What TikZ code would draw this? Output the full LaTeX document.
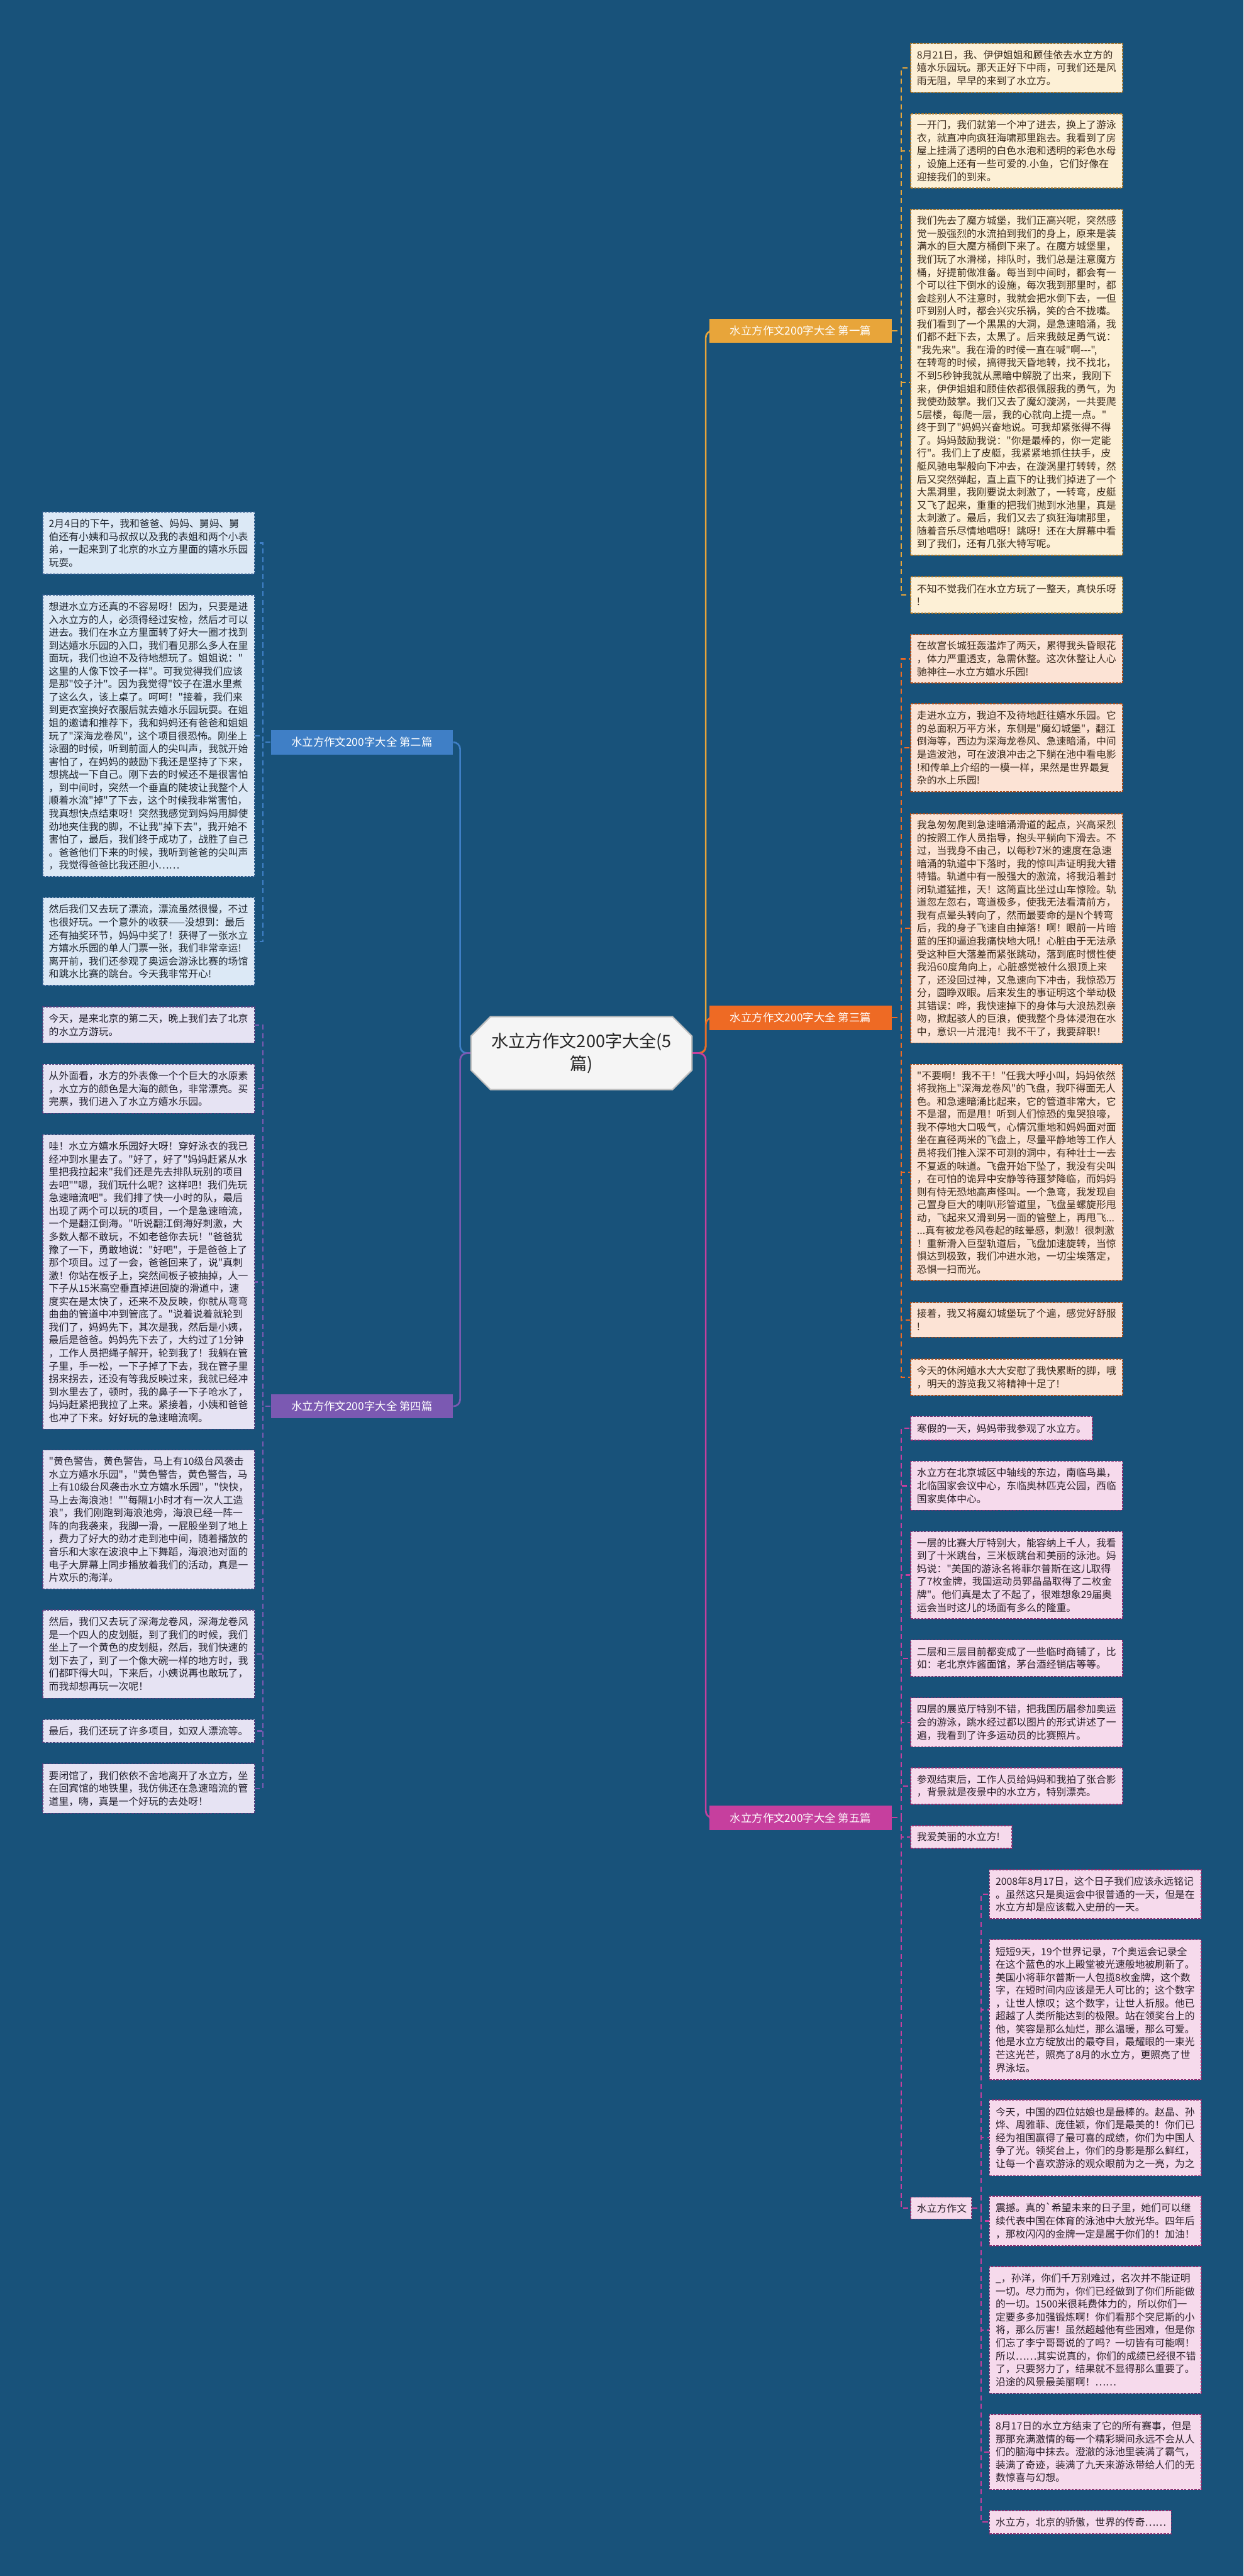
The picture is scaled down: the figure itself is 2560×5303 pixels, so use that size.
\documentclass[tikz,border=0pt]{standalone}
\usepackage{fontspec}
\newfontfamily\cjk{Noto Sans CJK SC}
\usetikzlibrary{calc,shapes.misc}
\definecolor{bg}{HTML}{18527A}
\definecolor{aF}{HTML}{FDF0D6}\definecolor{aL}{HTML}{E8A53A}\definecolor{aT}{HTML}{3A2A1C}
\definecolor{bF}{HTML}{FCE3D5}\definecolor{bL}{HTML}{EE6A24}\definecolor{bT}{HTML}{3A2A1C}
\definecolor{cF}{HTML}{F6DAEC}\definecolor{cL}{HTML}{C63F9E}\definecolor{cT}{HTML}{2A1F2A}
\definecolor{eF}{HTML}{DCE9F6}\definecolor{eL}{HTML}{3F7FC6}\definecolor{eT}{HTML}{1F2630}
\definecolor{fF}{HTML}{E6E3F3}\definecolor{fL}{HTML}{7B59B2}\definecolor{fT}{HTML}{22202E}
\newcommand\mybox[7]{%
  \pgfmathsetmacro\myh{(#5-#4)*0.01}%
  \pgfmathsetmacro\myw{(#6-25)*0.01}%
  \node[#2, anchor=north west, minimum height=\myh cm, text width=\myw cm] (#1) at (#3,#4) {#7};}
\begin{document}
\begin{tikzpicture}[x=0.01cm,y=-0.01cm,
  txt/.style={draw, dashed, dash pattern=on 1.2pt off 0.8pt, line width=0.6pt, inner xsep=0.125cm, inner ysep=0pt, align=left,
    font=\cjk\fontsize{5.83}{7.57}\selectfont},
  abox/.style={txt, fill=aF, draw=aL!70!black, text=aT},
  bbox/.style={txt, fill=bF, draw=bL!70!black, text=bT},
  cbox/.style={txt, fill=cF, draw=cL!70!black, text=cT},
  ebox/.style={txt, fill=eF, draw=eL!70!black, text=eT},
  fbox/.style={txt, fill=fF, draw=fL!70!black, text=fT},
  lab/.style={rectangle, minimum width=3.75cm, minimum height=0.5cm, inner sep=0pt, text=white,
    font=\cjk\fontsize{6.4}{7.5}\selectfont},
  conn/.style={line width=0.8pt, dashed, dash pattern=on 3pt off 2pt},
  main/.style={line width=1pt, rounded corners=4pt}]
\fill[bg] (0,0) rectangle (2560,5303);
\useasboundingbox (0,0) rectangle (2560,5303);

% center and labels
\node[chamfered rectangle, chamfered rectangle xsep=0.3cm, fill=gray!8, draw=gray!50, line width=0.8pt,
  minimum width=4.46cm, minimum height=1.5cm, align=center, text=black!85,
  font=\cjk\fontsize{10}{13}\selectfont] (ctr) at (1197,2168) {水立方作文200字大全(5\\篇)};
\node[lab, fill=aL] (l1) at (1648,681) {水立方作文200字大全 第一篇};
\node[lab, fill=eL] (l2) at (745,1528) {水立方作文200字大全 第二篇};
\node[lab, fill=bL] (l3) at (1648,2095) {水立方作文200字大全 第三篇};
\node[lab, fill=fL] (l4) at (745,2895) {水立方作文200字大全 第四篇};
\node[lab, fill=cL] (l5) at (1648,3742) {水立方作文200字大全 第五篇};

% branch 1
\mybox{a1}{abox}{1874}{88}{189}{436}{8月21日，我、伊伊姐姐和顾佳依去水立方的\\嬉水乐园玩。那天正好下中雨，可我们还是风\\雨无阻，早早的来到了水立方。}
\mybox{a2}{abox}{1874}{233}{386}{436}{一开门，我们就第一个冲了进去，换上了游泳\\衣，就直冲向疯狂海啸那里跑去。我看到了房\\屋上挂满了透明的白色水泡和透明的彩色水母\\，设施上还有一些可爱的.小鱼，它们好像在\\迎接我们的到来。}
\mybox{a3}{abox}{1874}{430}{1142}{436}{我们先去了魔方城堡，我们正高兴呢，突然感\\觉一股强烈的水流拍到我们的身上，原来是装\\满水的巨大魔方桶倒下来了。在魔方城堡里，\\我们玩了水滑梯，排队时，我们总是注意魔方\\桶，好提前做准备。每当到中间时，都会有一\\个可以往下倒水的设施，每次我到那里时，都\\会趁别人不注意时，我就会把水倒下去，一但\\吓到别人时，都会兴灾乐祸，笑的合不拢嘴。\\我们看到了一个黑黑的大洞，是急速暗涌，我\\们都不赶下去，太黑了。后来我鼓足勇气说：\\"我先来"。我在滑的时候一直在喊"啊---",\\在转弯的时候，搞得我天昏地转，找不找北，\\不到5秒钟我就从黑暗中解脱了出来，我刚下\\来，伊伊姐姐和顾佳依都很佩服我的勇气，为\\我使劲鼓掌。我们又去了魔幻漩涡，一共要爬\\5层楼，每爬一层，我的心就向上提一点。"\\终于到了"妈妈兴奋地说。可我却紧张得不得\\了。妈妈鼓励我说："你是最棒的，你一定能\\行"。我们上了皮艇，我紧紧地抓住扶手，皮\\艇风驰电掣般向下冲去，在漩涡里打转转，然\\后又突然弹起，直上直下的让我们掉进了一个\\大黑洞里，我刚要说太刺激了，一转弯，皮艇\\又飞了起来，重重的把我们抛到水池里，真是\\太刺激了。最后，我们又去了疯狂海啸那里，\\随着音乐尽情地唱呀！跳呀！还在大屏幕中看\\到了我们，还有几张大特写呢。}
\mybox{a4}{abox}{1874}{1186}{1261}{436}{不知不觉我们在水立方玩了一整天，真快乐呀\\!}

% branch 3
\mybox{b1}{bbox}{1874}{1305}{1405}{436}{在故宫长城狂轰滥炸了两天，累得我头昏眼花\\，体力严重透支，急需休整。这次休整让人心\\驰神往—水立方嬉水乐园!}
\mybox{b2}{bbox}{1874}{1448}{1629}{436}{走进水立方，我迫不及待地赶往嬉水乐园。它\\的总面积万平方米，东侧是"魔幻城堡"，翻江\\倒海等，西边为深海龙卷风、急速暗涌，中间\\是造波池，可在波浪冲击之下躺在池中看电影\\!和传单上介绍的一模一样，果然是世界最复\\杂的水上乐园!}
\mybox{b3}{bbox}{1874}{1674}{2146}{436}{我急匆匆爬到急速暗涌滑道的起点，兴高采烈\\的按照工作人员指导，抱头平躺向下滑去。不\\过，当我身不由己，以每秒7米的速度在急速\\暗涌的轨道中下落时，我的惊叫声证明我大错\\特错。轨道中有一股强大的激流，将我沿着封\\闭轨道猛推，天！这简直比坐过山车惊险。轨\\道忽左忽右，弯道极多，使我无法看清前方，\\我有点晕头转向了，然而最要命的是N个转弯\\后，我的身子飞速自由掉落！啊！眼前一片暗\\蓝的压抑逼迫我痛快地大吼！心脏由于无法承\\受这种巨大落差而紧张跳动，落到底时惯性使\\我沿60度角向上，心脏感觉被什么狠顶上来\\了，还没回过神，又急速向下冲击，我惊恐万\\分，圆睁双眼。后来发生的事证明这个举动极\\其错误：哗，我快速掉下的身体与大浪热烈亲\\吻，掀起骇人的巨浪，使我整个身体浸泡在水\\中，意识一片混沌！我不干了，我要辞职！}
\mybox{b4}{bbox}{1874}{2190}{2635}{436}{"不要啊！我不干！"任我大呼小叫，妈妈依然\\将我拖上"深海龙卷风"的飞盘，我吓得面无人\\色。和急速暗涌比起来，它的管道非常大，它\\不是溜，而是甩！听到人们惊恐的鬼哭狼嚎，\\我不停地大口吸气，心情沉重地和妈妈面对面\\坐在直径两米的飞盘上，尽量平静地等工作人\\员将我们推入深不可测的洞中，有种壮士一去\\不复返的味道。飞盘开始下坠了，我没有尖叫\\，在可怕的诡异中安静等待噩梦降临，而妈妈\\则有恃无恐地高声怪叫。一个急弯，我发现自\\己置身巨大的喇叭形管道里，飞盘呈螺旋形甩\\动，飞起来又滑到另一面的管壁上，再甩飞...\\...真有被龙卷风卷起的眩晕感，刺激！很刺激\\！重新滑入巨型轨道后，飞盘加速旋转，当惊\\惧达到极致，我们冲进水池，一切尘埃落定，\\恐惧一扫而光。}
\mybox{b5}{bbox}{1874}{2680}{2752}{436}{接着，我又将魔幻城堡玩了个遍，感觉好舒服\\!}
\mybox{b6}{bbox}{1874}{2797}{2872}{436}{今天的休闲嬉水大大安慰了我快累断的脚，哦\\，明天的游览我又将精神十足了!}

% branch 5
\mybox{c1}{cbox}{1874}{2915}{2964}{374}{寒假的一天，妈妈带我参观了水立方。}
\mybox{c2}{cbox}{1874}{3007}{3108}{436}{水立方在北京城区中轴线的东边，南临鸟巢，\\北临国家会议中心，东临奥林匹克公园，西临\\国家奥体中心。}
\mybox{c3}{cbox}{1874}{3152}{3331}{436}{一层的比赛大厅特别大，能容纳上千人，我看\\到了十米跳台，三米板跳台和美丽的泳池。妈\\妈说："美国的游泳名将菲尔普斯在这儿取得\\了7枚金牌，我国运动员郭晶晶取得了二枚金\\牌"。他们真是太了不起了，很难想象29届奥\\运会当时这儿的场面有多么的隆重。}
\mybox{c4}{cbox}{1874}{3375}{3450}{436}{二层和三层目前都变成了一些临时商铺了，比\\如：老北京炸酱面馆，茅台酒经销店等等。}
\mybox{c5}{cbox}{1874}{3494}{3595}{436}{四层的展览厅特别不错，把我国历届参加奥运\\会的游泳，跳水经过都以图片的形式讲述了一\\遍，我看到了许多运动员的比赛照片。}
\mybox{c6}{cbox}{1874}{3638}{3713}{436}{参观结束后，工作人员给妈妈和我拍了张合影\\，背景就是夜景中的水立方，特别漂亮。}
\mybox{c7}{cbox}{1874}{3757}{3804}{208}{我爱美丽的水立方!}
\mybox{c8}{cbox}{1874}{4522}{4567}{125}{水立方作文}

\mybox{d1}{cbox}{2036}{3848}{3949}{436}{2008年8月17日，这个日子我们应该永远铭记\\。虽然这只是奥运会中很普通的一天，但是在\\水立方却是应该载入史册的一天。}
\mybox{d2}{cbox}{2036}{3992}{4280}{436}{短短9天，19个世界记录，7个奥运会记录全\\在这个蓝色的水上殿堂被光速般地被刷新了。\\美国小将菲尔普斯一人包揽8枚金牌，这个数\\字，在短时间内应该是无人可比的；这个数字\\，让世人惊叹；这个数字，让世人折服。他已\\超越了人类所能达到的极限。站在领奖台上的\\他，笑容是那么灿烂，那么温暖，那么可爱。\\他是水立方绽放出的最夺目，最耀眼的一束光\\芒这光芒，照亮了8月的水立方，更照亮了世\\界泳坛。}
\mybox{d3}{cbox}{2036}{4322}{4478}{436}{今天，中国的四位姑娘也是最棒的。赵晶、孙\\烨、周雅菲、庞佳颖，你们是最美的！你们已\\经为祖国赢得了最可喜的成绩，你们为中国人\\争了光。领奖台上，你们的身影是那么鲜红，\\让每一个喜欢游泳的观众眼前为之一亮，为之}
\mybox{d4}{cbox}{2036}{4520}{4622}{436}{震撼。真的`希望未来的日子里，她们可以继\\续代表中国在体育的泳池中大放光华。四年后\\，那枚闪闪的金牌一定是属于你们的！加油！}
\mybox{d5}{cbox}{2036}{4665}{4926}{436}{\_，孙洋，你们千万别难过，名次并不能证明\\一切。尽力而为，你们已经做到了你们所能做\\的一切。1500米很耗费体力的，所以你们一\\定要多多加强锻炼啊！你们看那个突尼斯的小\\将，那么厉害！虽然超越他有些困难，但是你\\们忘了李宁哥哥说的了吗？一切皆有可能啊！\\所以……其实说真的，你们的成绩已经很不错\\了，只要努力了，结果就不显得那么重要了。\\沿途的风景最美丽啊！……}
\mybox{d6}{cbox}{2036}{4969}{5124}{436}{8月17日的水立方结束了它的所有赛事，但是\\那那充满激情的每一个精彩瞬间永远不会从人\\们的脑海中抹去。澄澈的泳池里装满了霸气，\\装满了奇迹，装满了九天来游泳带给人们的无\\数惊喜与幻想。}
\mybox{d7}{cbox}{2036}{5167}{5215}{374}{水立方，北京的骄傲，世界的传奇……}

% branch 2
\mybox{e1}{ebox}{87}{1053}{1181}{436}{2月4日的下午，我和爸爸、妈妈、舅妈、舅\\伯还有小姨和马叔叔以及我的表姐和两个小表\\弟，一起来到了北京的水立方里面的嬉水乐园\\玩耍。}
\mybox{e2}{ebox}{87}{1224}{1804}{436}{想进水立方还真的不容易呀！因为，只要是进\\入水立方的人，必须得经过安检，然后才可以\\进去。我们在水立方里面转了好大一圈才找到\\到达嬉水乐园的入口，我们看见那么多人在里\\面玩，我们也迫不及待地想玩了。姐姐说："\\这里的人像下饺子一样"。可我觉得我们应该\\是那"饺子汁"。因为我觉得"饺子在温水里煮\\了这么久，该上桌了。呵呵！"接着，我们来\\到更衣室换好衣服后就去嬉水乐园玩耍。在姐\\姐的邀请和推荐下，我和妈妈还有爸爸和姐姐\\玩了"深海龙卷风"，这个项目很恐怖。刚坐上\\泳圈的时候，听到前面人的尖叫声，我就开始\\害怕了，在妈妈的鼓励下我还是坚持了下来，\\想挑战一下自己。刚下去的时候还不是很害怕\\，到中间时，突然一个垂直的陡坡让我整个人\\顺着水流"掉"了下去，这个时候我非常害怕，\\我真想快点结束呀！突然我感觉到妈妈用脚使\\劲地夹住我的脚，不让我"掉下去"，我开始不\\害怕了，最后，我们终于成功了，战胜了自己\\。爸爸他们下来的时候，我听到爸爸的尖叫声\\，我觉得爸爸比我还胆小……}
\mybox{e3}{ebox}{87}{1847}{2028}{436}{然后我们又去玩了漂流，漂流虽然很慢，不过\\也很好玩。一个意外的收获——没想到：最后\\还有抽奖环节，妈妈中奖了！获得了一张水立\\方嬉水乐园的单人门票一张，我们非常幸运!\\离开前，我们还参观了奥运会游泳比赛的场馆\\和跳水比赛的跳台。今天我非常开心!}

% branch 4
\mybox{f1}{fbox}{87}{2072}{2146}{436}{今天，是来北京的第二天，晚上我们去了北京\\的水立方游玩。}
\mybox{f2}{fbox}{87}{2190}{2291}{436}{从外面看，水方的外表像一个个巨大的水原素\\，水立方的颜色是大海的颜色，非常漂亮。买\\完票，我们进入了水立方嬉水乐园。}
\mybox{f3}{fbox}{87}{2335}{2941}{436}{哇！水立方嬉水乐园好大呀！穿好泳衣的我已\\经冲到水里去了。"好了，好了"妈妈赶紧从水\\里把我拉起来"我们还是先去排队玩别的项目\\去吧""嗯，我们玩什么呢？这样吧！我们先玩\\急速暗流吧"。我们排了快一小时的队，最后\\出现了两个可以玩的项目，一个是急速暗流，\\一个是翻江倒海。"听说翻江倒海好刺激，大\\多数人都不敢玩，不如老爸你去玩！"爸爸犹\\豫了一下，勇敢地说："好吧"，于是爸爸上了\\那个项目。过了一会，爸爸回来了，说"真刺\\激！你站在板子上，突然间板子被抽掉，人一\\下子从15米高空垂直掉进回旋的滑道中，速\\度实在是太快了，还来不及反映，你就从弯弯\\曲曲的管道中冲到管底了。"说着说着就轮到\\我们了，妈妈先下，其次是我，然后是小姨，\\最后是爸爸。妈妈先下去了，大约过了1分钟\\，工作人员把绳子解开，轮到我了！我躺在管\\子里，手一松，一下子掉了下去，我在管子里\\拐来拐去，还没有等我反映过来，我就已经冲\\到水里去了，顿时，我的鼻子一下子呛水了，\\妈妈赶紧把我拉了上来。紧接着，小姨和爸爸\\也冲了下来。好好玩的急速暗流啊。}
\mybox{f4}{fbox}{87}{2984}{3270}{436}{"黄色警告，黄色警告，马上有10级台风袭击\\水立方嬉水乐园"，"黄色警告，黄色警告，马\\上有10级台风袭击水立方嬉水乐园"，"快快，\\马上去海浪池！""每隔1小时才有一次人工造\\浪"，我们刚跑到海浪池旁，海浪已经一阵一\\阵的向我袭来，我脚一滑，一屁股坐到了地上\\，费力了好大的劲才走到池中间，随着播放的\\音乐和大家在波浪中上下舞蹈，海浪池对面的\\电子大屏幕上同步播放着我们的活动，真是一\\片欢乐的海洋。}
\mybox{f5}{fbox}{87}{3313}{3495}{436}{然后，我们又去玩了深海龙卷风，深海龙卷风\\是一个四人的皮划艇，到了我们的时候，我们\\坐上了一个黄色的皮划艇，然后，我们快速的\\划下去了，到了一个像大碗一样的地方时，我\\们都吓得大叫，下来后，小姨说再也敢玩了，\\而我却想再玩一次呢！}
\mybox{f6}{fbox}{87}{3539}{3586}{436}{最后，我们还玩了许多项目，如双人漂流等。}
\mybox{f7}{fbox}{87}{3630}{3732}{436}{要闭馆了，我们依依不舍地离开了水立方，坐\\在回宾馆的地铁里，我仿佛还在急速暗流的管\\道里，嗨，真是一个好玩的去处呀！}

% main connectors
\foreach \l/\c in {l1/aL,l3/bL,l5/cL} \draw[main, draw=\c] (ctr.east) -- ++(27,0) |- (\l.west);
\foreach \l/\c in {l2/eL,l4/fL} \draw[main, draw=\c] (ctr.west) -- ++(-21,0) |- (\l.east);

% child connectors
\foreach \n in {a1,a2,a3,a4} \draw[conn, draw=aL] (l1.east) -- ++(19,0) |- (\n.west);
\foreach \n in {b1,b2,b3,b4,b5,b6} \draw[conn, draw=bL] (l3.east) -- ++(19,0) |- (\n.west);
\foreach \n in {c1,c2,c3,c4,c5,c6,c7,c8} \draw[conn, draw=cL] (l5.east) -- ++(19,0) |- (\n.west);
\foreach \n in {d1,d2,d3,d4,d5,d6,d7} \draw[conn, draw=cL] (c8.east) -- ++(19,0) |- (\n.west);
\foreach \n in {e1,e2,e3} \draw[conn, draw=eL] (l2.west) -- ++(-16,0) |- (\n.east);
\foreach \n in {f1,f2,f3,f4,f5,f6,f7} \draw[conn, draw=fL] (l4.west) -- ++(-16,0) |- (\n.east);
\end{tikzpicture}
\end{document}
